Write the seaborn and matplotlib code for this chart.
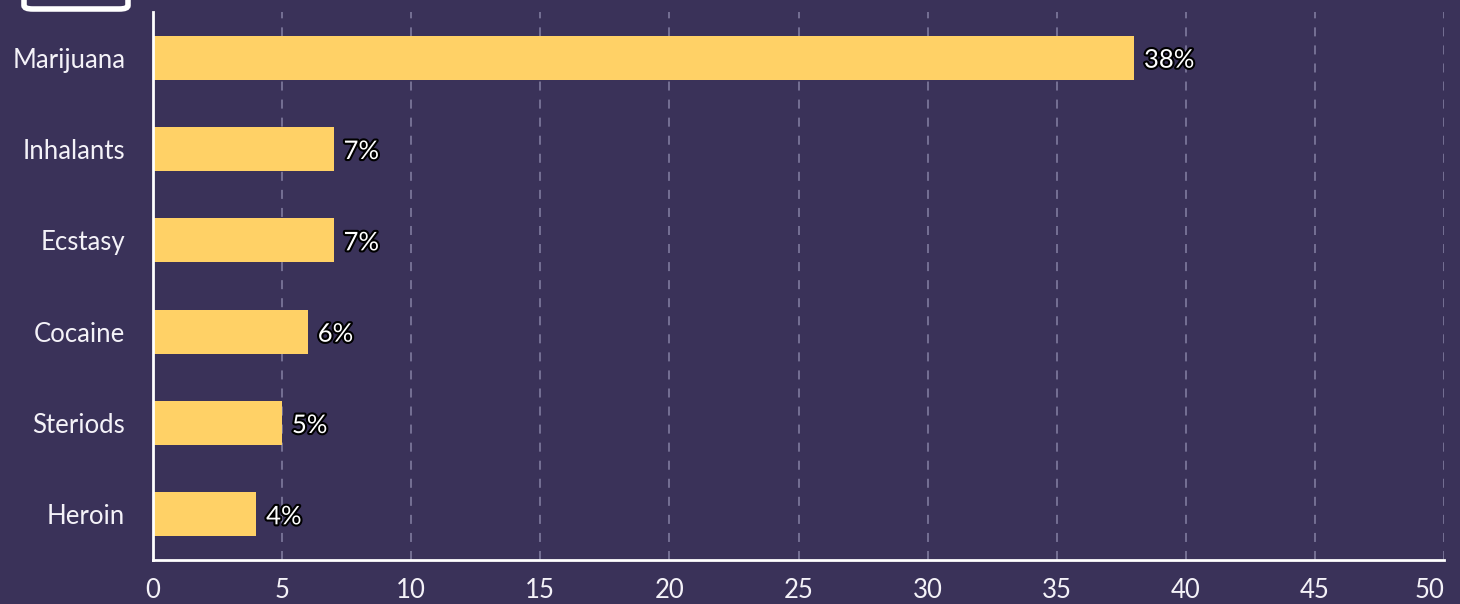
import matplotlib
matplotlib.use("Agg")
import matplotlib.pyplot as plt
import matplotlib.patheffects as pe
from matplotlib.patches import FancyBboxPatch
import pandas as pd
import seaborn as sns

drugs = ["Marijuana", "Inhalants", "Ecstasy", "Cocaine", "Steriods", "Heroin"]
percent = [38, 7, 7, 6, 5, 4]
x_ticks = [0, 5, 10, 15, 20, 25, 30, 35, 40, 45, 50]

bg = "#3a3259"
bar_color = "#ffd166"

df = pd.DataFrame({"drug": drugs, "percent": percent})

sns.set_style("white")
plt.rcParams["font.family"] = ["Lato", "DejaVu Sans"]

fig = plt.figure(figsize=(14.6, 6.04), dpi=100, facecolor=bg)
ax = fig.add_axes([153 / 1460, 1 - 560 / 604, (1444 - 153) / 1460, (560 - 12) / 604])
ax.set_facecolor(bg)

sns.barplot(data=df, x="percent", y="drug", color=bar_color, saturation=1,
            width=0.48, orient="h", linewidth=0, ax=ax)

for i, v in enumerate(percent):
    ax.text(v + 0.38, i, f"{v}%", va="center_baseline", ha="left", fontsize=18.5,
            color="white",
            path_effects=[pe.withStroke(linewidth=3, foreground="black")])

ax.set_xlim(0, 50)
ax.set_ylim(5.5, -0.5)
ax.set_xticks(x_ticks)
ax.set_xlabel("")
ax.set_ylabel("")
ax.xaxis.grid(True, linestyle=(0, (5, 5)), color="#7a7599", linewidth=1.3)
ax.set_axisbelow(True)
ax.tick_params(axis="both", colors="#f4f2f8", labelsize=18.5, length=0)
ax.tick_params(axis="y", pad=20)
ax.tick_params(axis="x", pad=13)
ax.get_xticklabels()[-1].set_horizontalalignment("right")
for s in ["top", "right"]:
    ax.spines[s].set_visible(False)
for s in ["left", "bottom"]:
    ax.spines[s].set_color("white")
    ax.spines[s].set_linewidth(2)

# partly hidden box at the top left edge
box = FancyBboxPatch((24 / 1460, 1 - 9 / 604), 104 / 1460, 20 / 604,
                     boxstyle="round,pad=0,rounding_size=0.006",
                     transform=fig.transFigure, facecolor=bg, edgecolor="white",
                     linewidth=4)
fig.patches.append(box)

fig.savefig("out.png", dpi=100, facecolor=bg)
